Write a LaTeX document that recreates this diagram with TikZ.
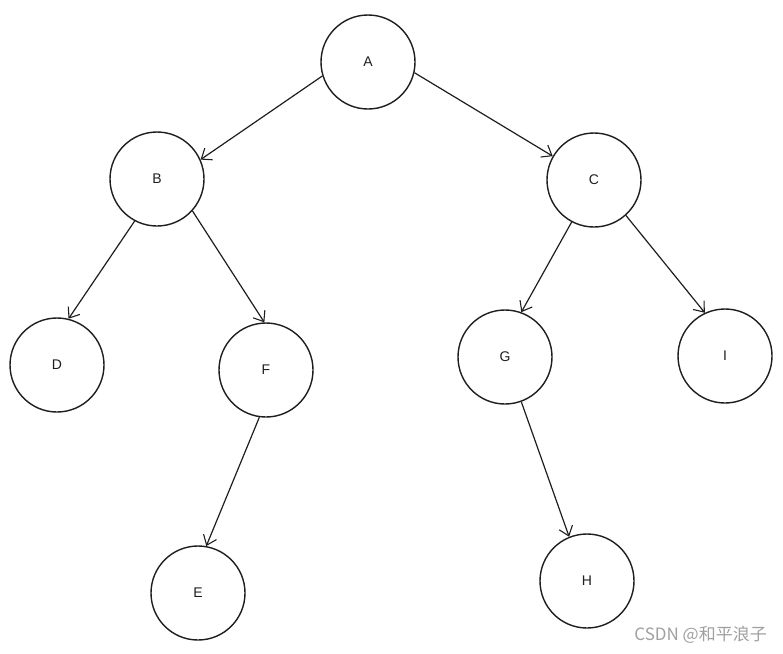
\documentclass[tikz,border=0pt]{standalone}
\usepackage{fontspec}
\newfontfamily\cjk{Noto Sans CJK SC}
\newfontfamily\handfont{Liberation Sans}
\usetikzlibrary{arrows.meta}
\definecolor{ink}{HTML}{1E1E1E}
\definecolor{wm}{HTML}{A0A0A0}
\tikzset{
  treenode/.style={circle, draw=ink, line width=1.4pt, minimum size=94pt, inner sep=0pt,
    font=\handfont\fontsize{14}{16}\selectfont, text=ink},
  edge/.style={draw=ink, line width=1.2pt, -{Straight Barb[length=9pt,width=14pt,line width=1.1pt]}}
}
\begin{document}
\begin{tikzpicture}[x=1pt,y=-1pt]
\useasboundingbox (0,0) rectangle (783,653);
\node[treenode] (A) at (368,62) {A};
\node[treenode] (B) at (157,179) {B};
\node[treenode] (C) at (594,180) {C};
\node[treenode] (D) at (57,365) {D};
\node[treenode] (F) at (266,370) {F};
\node[treenode] (G) at (505,357) {G};
\node[treenode] (I) at (725,356) {I};
\node[treenode] (E) at (198,593) {E};
\node[treenode] (H) at (587,581) {H};
\draw[edge] (A.197) -- (B.24);
\draw[edge] (A.-13) -- (C.150);
\draw[edge] (B.-118) -- (D.76);
\draw[edge] (B.-42) -- (F.92);
\draw[edge] (C.-118) -- (G.70);
\draw[edge] (C.-48) -- (I.115);
\draw[edge] (F.-98) -- (E.80);
\draw[edge] (G.-70) -- (H.112);
\node[anchor=east, text=wm, inner sep=0pt, font=\cjk\fontsize{17}{19}\selectfont] (wmark) at (767,635) {CSDN @和平浪子};
\end{tikzpicture}
\end{document}
